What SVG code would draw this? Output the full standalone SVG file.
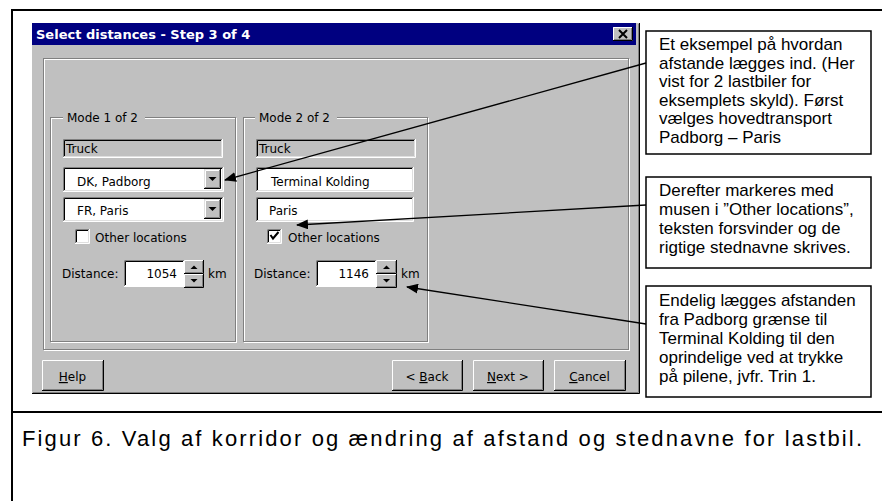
<svg xmlns="http://www.w3.org/2000/svg" width="882" height="501" viewBox="0 0 882 501">
<style>
.ui{font-family:"DejaVu Sans","Liberation Sans",sans-serif;font-size:12px;fill:#000}
.so{fill:none;stroke:#808080;stroke-width:1}
.si{fill:none;stroke:#000;stroke-width:1}
.ho{fill:none;stroke:#fff;stroke-width:1}
.hi{fill:none;stroke:#dfdfdf;stroke-width:1}
.call{fill:#fff;stroke:#000;stroke-width:1.5}
.ct{font-family:"Liberation Sans",Arial,sans-serif;font-size:17px;fill:#000}
.conn{fill:none;stroke:#000;stroke-width:1.3}
.frame{stroke:#000;stroke-width:2;fill:none}
</style>
<defs>
<marker id="ah" viewBox="0 0 12 10" refX="11" refY="5" markerWidth="12" markerHeight="10" markerUnits="userSpaceOnUse" orient="auto">
<path d="M0,0 L12,5 L0,10 Z" fill="#000"/>
</marker>
</defs>
<rect width="882" height="501" fill="#fff"/>
<g id="frame">
<path class="frame" d="M12,501 V10 H882"/>
<path class="frame" d="M12,412 H882"/>
</g>
<g id="dialog">
<rect x="32" y="23" width="608" height="371" fill="#c0c0c0"/>
<path class="si" d="M32,393.5 H639.5 V23"/>
<path class="so" d="M33,392.5 H638.5 V24"/>
<rect x="32" y="23" width="604" height="22" fill="#000080"/>
<text x="36" y="39" font-family="DejaVu Sans,Liberation Sans,sans-serif" font-size="13" font-weight="bold" fill="#fff">Select distances - Step 3 of 4</text>
<g id="closebtn">
<rect x="613" y="27" width="20" height="14" fill="#c0c0c0"/>
<path class="ho" d="M613.5,40.5 V27.5 H632.5"/>
<path class="si" d="M613,40.5 H632.5 V27"/>
<path class="so" d="M614,39.5 H631.5 V28"/>
<path d="M619,30 L627,38 M627,30 L619,38" stroke="#000" stroke-width="2"/>
</g>
<rect x="44.5" y="59.5" width="585" height="291" class="ho"/>
<rect x="43.5" y="58.5" width="585" height="291" class="so"/>
</g>
<g id="mode1">
<rect x="51.5" y="118.5" width="185" height="224" class="ho"/>
<rect x="50.5" y="117.5" width="185" height="224" class="so"/>
<rect x="63" y="110" width="82" height="14" fill="#c0c0c0"/>
<text class="ui" x="67" y="122">Mode 1 of 2</text>
<g id="truck1">
<path class="so" d="M63.5,157 V139.5 H222"/>
<path class="si" d="M64.5,156 V140.5 H221"/>
<path class="ho" d="M63,157.5 H222.5 V139"/>
<path class="hi" d="M64,156.5 H221.5 V140"/>
<text class="ui" x="66" y="153">Truck</text>
</g>
<g id="combo1">
<rect x="63" y="167" width="160" height="24" fill="#fff"/>
<path class="so" d="M63.5,191 V167.5 H223"/>
<path class="si" d="M64.5,190 V168.5 H222"/>
<path class="ho" d="M63,191.5 H223.5 V167"/>
<path class="hi" d="M64,190.5 H222.5 V168"/>
<rect x="204" y="169" width="17" height="20" fill="#c0c0c0"/>
<path class="hi" d="M204.5,188.5 V169.5 H220.5"/>
<path class="ho" d="M205.5,187.5 V170.5 H219.5"/>
<path class="si" d="M204,188.5 H220.5 V169"/>
<path class="so" d="M205,187.5 H219.5 V170"/>
<path d="M208.5,177 L216.5,177 L212.5,181 Z" fill="#000"/>
<text class="ui" x="77" y="186">DK, Padborg</text>
</g>
<g id="combo2">
<rect x="63" y="197" width="160" height="24" fill="#fff"/>
<path class="so" d="M63.5,221 V197.5 H223"/>
<path class="si" d="M64.5,220 V198.5 H222"/>
<path class="ho" d="M63,221.5 H223.5 V197"/>
<path class="hi" d="M64,220.5 H222.5 V198"/>
<rect x="204" y="199" width="17" height="20" fill="#c0c0c0"/>
<path class="hi" d="M204.5,218.5 V199.5 H220.5"/>
<path class="ho" d="M205.5,217.5 V200.5 H219.5"/>
<path class="si" d="M204,218.5 H220.5 V199"/>
<path class="so" d="M205,217.5 H219.5 V200"/>
<path d="M208.5,207 L216.5,207 L212.5,211 Z" fill="#000"/>
<text class="ui" x="77" y="215">FR, Paris</text>
</g>
<g id="check1">
<rect x="75" y="229" width="14" height="14" fill="#fff"/>
<path class="so" d="M75.5,243 V229.5 H89"/>
<path class="si" d="M76.5,242 V230.5 H88"/>
<path class="ho" d="M75,243.5 H89.5 V229"/>
<path class="hi" d="M76,242.5 H88.5 V230"/>
<text class="ui" x="95" y="242">Other locations</text>
</g>
<g id="dist1">
<text class="ui" x="62" y="278">Distance:</text>
<rect x="124" y="260" width="60" height="26" fill="#fff"/>
<path class="so" d="M124.5,286 V260.5 H184"/>
<path class="si" d="M125.5,285 V261.5 H183"/>
<path class="ho" d="M124,286.5 H184.5 V260"/>
<text class="ui" x="177" y="278" text-anchor="end">1054</text>
<rect x="184" y="260" width="20" height="28" fill="#c0c0c0"/>
<path class="ho" d="M184.5,273 V260.5 H203"/>
<path class="si" d="M184,273.5 H203.5 V260"/>
<path class="so" d="M185,272.5 H202.5 V261"/>
<path class="ho" d="M184.5,287 V274.5 H203"/>
<path class="si" d="M184,287.5 H203.5 V274"/>
<path class="so" d="M185,286.5 H202.5 V275"/>
<path d="M190.5,269 L197.5,269 L194,265.5 Z" fill="#000"/>
<path d="M190.5,279 L197.5,279 L194,282.5 Z" fill="#000"/>
<text class="ui" x="208" y="278">km</text>
</g>
</g>
<g id="mode2">
<rect x="244.5" y="118.5" width="184" height="224" class="ho"/>
<rect x="243.5" y="117.5" width="184" height="224" class="so"/>
<rect x="255" y="110" width="82" height="14" fill="#c0c0c0"/>
<text class="ui" x="259" y="122">Mode 2 of 2</text>
<g id="truck2">
<path class="so" d="M256.5,157 V139.5 H415"/>
<path class="si" d="M257.5,156 V140.5 H414"/>
<path class="ho" d="M256,157.5 H415.5 V139"/>
<path class="hi" d="M257,156.5 H414.5 V140"/>
<text class="ui" x="259" y="153">Truck</text>
</g>
<g id="text1">
<rect x="256" y="167" width="157" height="24" fill="#fff"/>
<path class="so" d="M256.5,191 V167.5 H413"/>
<path class="si" d="M257.5,190 V168.5 H412"/>
<path class="ho" d="M256,191.5 H413.5 V167"/>
<path class="hi" d="M257,190.5 H412.5 V168"/>
<text class="ui" x="271" y="186">Terminal Kolding</text>
</g>
<g id="text2">
<rect x="256" y="197" width="157" height="24" fill="#fff"/>
<path class="so" d="M256.5,221 V197.5 H413"/>
<path class="si" d="M257.5,220 V198.5 H412"/>
<path class="ho" d="M256,221.5 H413.5 V197"/>
<path class="hi" d="M257,220.5 H412.5 V198"/>
<text class="ui" x="269" y="215">Paris</text>
</g>
<g id="check2">
<rect x="267" y="229" width="14" height="14" fill="#fff"/>
<path class="so" d="M267.5,243 V229.5 H281"/>
<path class="si" d="M268.5,242 V230.5 H280"/>
<path class="ho" d="M267,243.5 H281.5 V229"/>
<path class="hi" d="M268,242.5 H280.5 V230"/>
<path d="M270.5,235 L273,238.5 L278.5,232" fill="none" stroke="#000" stroke-width="2"/>
<text class="ui" x="288" y="242">Other locations</text>
</g>
<g id="dist2">
<text class="ui" x="254" y="278">Distance:</text>
<rect x="316" y="260" width="60" height="26" fill="#fff"/>
<path class="so" d="M316.5,286 V260.5 H376"/>
<path class="si" d="M317.5,285 V261.5 H375"/>
<path class="ho" d="M316,286.5 H376.5 V260"/>
<text class="ui" x="369" y="278" text-anchor="end">1146</text>
<rect x="376" y="260" width="21" height="28" fill="#c0c0c0"/>
<path class="ho" d="M376.5,273 V260.5 H396"/>
<path class="si" d="M376,273.5 H396.5 V260"/>
<path class="so" d="M377,272.5 H395.5 V261"/>
<path class="ho" d="M376.5,287 V274.5 H396"/>
<path class="si" d="M376,287.5 H396.5 V274"/>
<path class="so" d="M377,286.5 H395.5 V275"/>
<path d="M383,269 L390,269 L386.5,265.5 Z" fill="#000"/>
<path d="M383,279 L390,279 L386.5,282.5 Z" fill="#000"/>
<text class="ui" x="401" y="278">km</text>
</g>
</g>
<g id="btn-help">
<path class="ho" d="M42.5,390 V360.5 H103"/>
<path class="si" d="M42,390.5 H103.5 V360"/>
<path class="so" d="M43,389.5 H102.5 V361"/>
<text class="ui" x="72.5" y="381" text-anchor="middle"><tspan text-decoration="underline">H</tspan>elp</text>
</g>
<g id="btn-back">
<path class="ho" d="M392.5,390 V360.5 H462"/>
<path class="si" d="M392,390.5 H462.5 V360"/>
<path class="so" d="M393,389.5 H461.5 V361"/>
<text class="ui" x="427" y="381" text-anchor="middle">&lt; <tspan text-decoration="underline">B</tspan>ack</text>
</g>
<g id="btn-next">
<path class="ho" d="M473.5,390 V360.5 H543"/>
<path class="si" d="M473,390.5 H543.5 V360"/>
<path class="so" d="M474,389.5 H542.5 V361"/>
<text class="ui" x="508" y="381" text-anchor="middle"><tspan text-decoration="underline">N</tspan>ext &gt;</text>
</g>
<g id="btn-cancel">
<path class="ho" d="M554.5,390 V360.5 H625"/>
<path class="si" d="M554,390.5 H625.5 V360"/>
<path class="so" d="M555,389.5 H624.5 V361"/>
<text class="ui" x="589.5" y="381" text-anchor="middle"><tspan text-decoration="underline">C</tspan>ancel</text>
</g>
<g id="callout1">
<rect class="call" x="646" y="31" width="225" height="123"/>
<text class="ct"><tspan x="659" y="50">Et eksempel på hvordan</tspan><tspan x="659" y="68.5">afstande lægges ind. (Her</tspan><tspan x="659" y="87">vist for 2 lastbiler for</tspan><tspan x="659" y="105.5">eksemplets skyld).  Først</tspan><tspan x="659" y="124">vælges hovedtransport</tspan><tspan x="659" y="142.5">Padborg – Paris</tspan></text>
</g>
<g id="callout2">
<rect class="call" x="646" y="177" width="225" height="91"/>
<text class="ct"><tspan x="659" y="196">Derefter markeres med</tspan><tspan x="659" y="215">musen i ”Other locations”,</tspan><tspan x="659" y="234">teksten forsvinder og de</tspan><tspan x="659" y="253">rigtige stednavne skrives.</tspan></text>
</g>
<g id="callout3">
<rect class="call" x="646" y="286" width="225" height="111"/>
<text class="ct"><tspan x="659" y="306">Endelig lægges afstanden</tspan><tspan x="659" y="325">fra Padborg grænse til</tspan><tspan x="659" y="344">Terminal Kolding til den</tspan><tspan x="659" y="363">oprindelige ved at trykke</tspan><tspan x="659" y="382">på pilene, jvfr. Trin 1.</tspan></text>
</g>
<g id="connectors">
<line class="conn" x1="646" y1="63" x2="225" y2="180" marker-end="url(#ah)"/>
<line class="conn" x1="646" y1="205" x2="297" y2="225" marker-end="url(#ah)"/>
<line class="conn" x1="646" y1="324" x2="407" y2="287" marker-end="url(#ah)"/>
</g>
<g id="caption">
<text x="22" y="446" font-family="Liberation Sans,Arial,sans-serif" font-size="22" textLength="840" lengthAdjust="spacing" fill="#000">Figur 6. Valg af korridor og ændring af afstand og stednavne for lastbil.</text>
</g>
</svg>
